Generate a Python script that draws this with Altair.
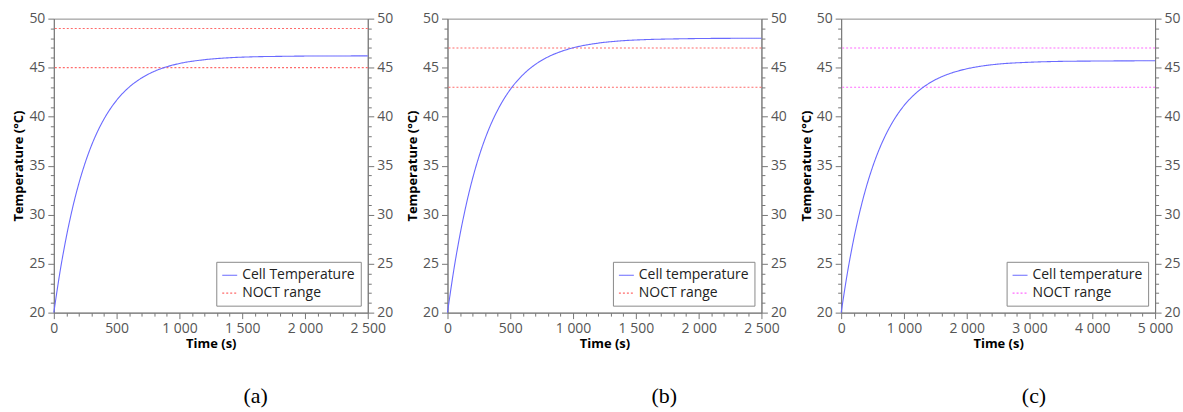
import altair as alt
import pandas as pd

# ---------------- data ----------------
time_a = [0, 50, 100, 150, 200, 250, 300, 350, 400, 500, 600, 700, 800, 900, 1000, 1200, 1400, 1600, 1800, 2000, 2250, 2500]
temp_a = [20.0, 24.22, 27.75, 30.72, 33.21, 35.30, 37.06, 38.53, 39.76, 41.67, 43.01, 43.95, 44.62, 45.09, 45.42, 45.81, 46.01, 46.11, 46.15, 46.18, 46.19, 46.2]
noct_a = [45, 49]

time_b = [0, 50, 100, 150, 200, 250, 300, 350, 400, 500, 600, 700, 800, 900, 1000, 1200, 1400, 1600, 1800, 2000, 2250, 2500]
temp_b = [20.0, 24.33, 27.98, 31.07, 33.69, 35.90, 37.77, 39.35, 40.68, 42.77, 44.26, 45.33, 46.09, 46.63, 47.02, 47.50, 47.75, 47.87, 47.93, 47.97, 47.99, 48.0]
noct_b = [43, 47]

time_c = [0, 100, 200, 300, 400, 500, 600, 700, 800, 1000, 1200, 1400, 1600, 1800, 2000, 2250, 2500, 3000, 3500, 4000, 4500, 5000]
temp_c = [20.0, 24.07, 27.50, 30.38, 32.81, 34.85, 36.57, 38.01, 39.23, 41.12, 42.45, 43.40, 44.07, 44.54, 44.88, 45.17, 45.36, 45.55, 45.64, 45.67, 45.69, 45.70]
noct_c = [43, 47]

y_ticks = list(range(20, 51))
x_ticks_2500 = list(range(0, 2501, 100))
x_ticks_5000 = list(range(0, 5001, 200))

BLUE = "#6a6aff"
RED = "#ff6b6b"
MAGENTA = "#ff6bff"
FONT = "Open Sans"

W, H = 315, 295


def cond(test, a, b):
    return {"condition": {"test": test, "value": a}, "value": b}


def panel(t, temp, noct, line_name, noct_color, xmax, xticks, xmajor, label, dx):
    df_line = pd.DataFrame({"t": t, "T": temp, "series": line_name})
    df_rule = pd.DataFrame({"y": noct, "series": "NOCT range"})
    domain = [line_name, "NOCT range"]
    color = alt.Color("series:N", title=None,
                      scale=alt.Scale(domain=domain, range=[BLUE, noct_color]))
    dash = alt.StrokeDash("series:N", title=None,
                          scale=alt.Scale(domain=domain, range=[[1, 0], [2, 2]]))
    ymaj = "datum.value % 5 === 0"
    xmaj = f"datum.value % {xmajor} === 0"

    line = alt.Chart(df_line).mark_line(strokeWidth=1.1, interpolate="monotone").encode(
        x=alt.X("t:Q", scale=alt.Scale(domain=[0, xmax], nice=False),
                axis=alt.Axis(title="Time (s)", values=xticks, labelFlush=False,
                              labelOverlap=False, tickSize=cond(xmaj, 6, 3.5), labelPadding=3,
                              labelExpr=f"{xmaj} ? replace(format(datum.value, ','), ',', ' ') : ''",
                              titlePadding=2)),
        y=alt.Y("T:Q", scale=alt.Scale(domain=[20, 50], nice=False),
                axis=alt.Axis(title="Temperature (°C)", values=y_ticks, labelOverlap=False,
                              tickSize=cond(ymaj, 6, 3.5), labelPadding=3, titlePadding=3,
                              labelExpr=f"{ymaj} ? datum.label : ''")),
        color=color,
        strokeDash=dash,
    )
    rules = alt.Chart(df_rule).mark_rule(strokeWidth=1.1).encode(
        y=alt.Y("y:Q", scale=alt.Scale(domain=[20, 50], nice=False),
                axis=alt.Axis(title=None, orient="right", values=y_ticks, labelOverlap=False,
                              tickSize=cond(ymaj, 6, 3.5), labelPadding=3,
                              labelExpr=f"{ymaj} ? datum.label : ''")),
        color=color,
        strokeDash=dash,
    )
    return alt.layer(rules, line).resolve_scale(y="independent").properties(
        width=W, height=H,
        title=alt.Title(label, orient="bottom", font="Liberation Serif", fontSize=22,
                        fontWeight="normal", color="black", offset=36, dx=dx),
    )


pa = panel(time_a, temp_a, noct_a, "Cell Temperature", RED, 2500, x_ticks_2500, 500, "(a)", 45)
pb = panel(time_b, temp_b, noct_b, "Cell temperature", RED, 2500, x_ticks_2500, 500, "(b)", 60)
pc = panel(time_c, temp_c, noct_c, "Cell temperature", MAGENTA, 5000, x_ticks_5000, 1000, "(c)", 36)

chart = alt.hconcat(pa, pb, pc, spacing=12).resolve_scale(
    color="independent", strokeDash="independent"
).properties(
    padding={"left": 12, "top": 10, "right": 2, "bottom": 2}
).configure_view(
    stroke="#8a8a8a"
).configure_axis(
    grid=False, domainColor="#777", tickColor="#777", labelColor="#555",
    labelFont=FONT, labelFontSize=14, titleFont=FONT, titleFontSize=13,
    titleFontWeight="bold", titleColor="black",
).configure_legend(
    orient="bottom-right", offset=7, strokeColor="#8a8a8a", fillColor="white",
    padding=5, labelFont=FONT, labelFontSize=14, labelColor="#222",
    symbolType="stroke", symbolSize=225, symbolStrokeWidth=1.2, rowPadding=2,
    cornerRadius=0, labelLimit=200,
)

chart.save("out.html", embed_options={"renderer": "svg", "actions": False})
